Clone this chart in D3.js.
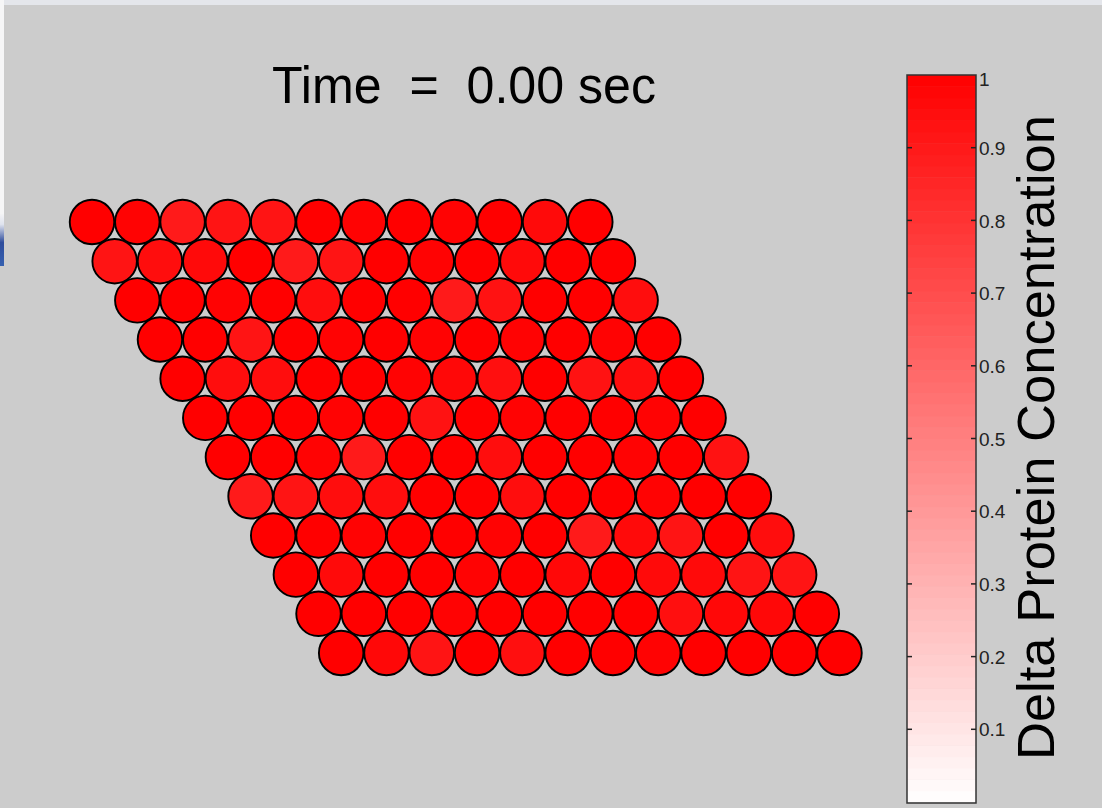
<!DOCTYPE html>
<html>
<head>
<meta charset="utf-8">
<script src="https://cdn.jsdelivr.net/npm/d3@7"></script>
<style>
  html, body { margin: 0; padding: 0; background: #cccccc; overflow: hidden; }
  svg { display: block; font-family: "Liberation Sans", Arial, sans-serif; }
</style>
</head>
<body>
<svg id="drawing"></svg>
<script>
// cell grid: 12 rows x 12 columns, each row shifted half a cell
var rowIndex = [0,1,2,3,4,5,6,7,8,9,10,11];
var colIndex = [0,1,2,3,4,5,6,7,8,9,10,11];

// delta protein concentration per cell (row by row)
var row00 = [1.00, 0.99, 0.90, 0.92, 0.92, 1.00, 0.99, 1.00, 0.99, 1.00, 0.96, 1.00];
var row01 = [0.92, 0.95, 0.96, 1.00, 0.90, 0.92, 1.00, 0.99, 1.00, 0.96, 1.00, 1.00];
var row02 = [1.00, 1.00, 0.99, 1.00, 0.95, 1.00, 1.00, 0.90, 0.93, 1.00, 1.00, 0.95];
var row03 = [1.00, 1.00, 0.92, 1.00, 0.99, 1.00, 0.99, 1.00, 0.99, 1.00, 0.99, 1.00];
var row04 = [1.00, 0.95, 0.95, 1.00, 1.00, 0.99, 0.97, 0.94, 1.00, 0.93, 0.95, 1.00];
var row05 = [1.00, 1.00, 1.00, 0.99, 1.00, 0.93, 1.00, 0.99, 1.00, 1.00, 0.99, 1.00];
var row06 = [1.00, 1.00, 0.99, 0.90, 1.00, 1.00, 0.95, 1.00, 1.00, 0.99, 1.00, 0.93];
var row07 = [0.90, 0.92, 0.95, 0.95, 1.00, 1.00, 0.95, 1.00, 1.00, 0.99, 1.00, 1.00];
var row08 = [1.00, 1.00, 0.99, 1.00, 1.00, 0.99, 1.00, 0.90, 0.96, 0.92, 1.00, 0.95];
var row09 = [1.00, 0.96, 1.00, 1.00, 0.99, 1.00, 0.97, 1.00, 0.96, 0.96, 0.92, 0.92];
var row10 = [1.00, 1.00, 1.00, 0.99, 1.00, 1.00, 1.00, 1.00, 0.94, 0.97, 0.97, 1.00];
var row11 = [1.00, 0.97, 0.92, 1.00, 0.94, 1.00, 1.00, 0.99, 1.00, 1.00, 1.00, 1.00];
var concentration = [row00, row01, row02, row03, row04, row05, row06, row07, row08, row09, row10, row11];

var colorbarTicks = [0.1, 0.2, 0.3, 0.4, 0.5, 0.6, 0.7, 0.8, 0.9, 1];
var titleText = "Time  =  0.00 sec";
var colorbarLabel = "Delta Protein Concentration";

class HexChart {

    constructor( config, data ) {
        this.config = {
            parent: config.parent,
            width: config.width || 1102,
            height: config.height || 808
        }
        //flatten rows into cells
        this.cells = [];
        for(var r=0;r<rowIndex.length;r++){
            for(var c=0;c<colIndex.length;c++){
                this.cells.push({row: rowIndex[r], col: colIndex[c], value: data[r][c]});
            }
        }
        this.init();
    }

    init() {
        let self = this;

        self.svg = d3.select( self.config.parent )
            .attr('width', self.config.width)
            .attr('height', self.config.height);

        self.svg.append('rect')
            .attr('width', self.config.width).attr('height', self.config.height)
            .attr('fill', '#cccccc');

        // window edge leftovers
        const defs = self.svg.append('defs');
        const g = defs.append('linearGradient').attr('id', 'edge').attr('x1', 0).attr('x2', 0).attr('y1', 0).attr('y2', 1);
        g.append('stop').attr('offset', '0').attr('stop-color', '#f4f4f6');
        g.append('stop').attr('offset', '0.2').attr('stop-color', '#dfe3ee');
        g.append('stop').attr('offset', '0.55').attr('stop-color', '#2e4c9c');
        g.append('stop').attr('offset', '1').attr('stop-color', '#3560b0');
        self.svg.append('rect').attr('x', 0).attr('y', 0).attr('width', 4).attr('height', 214).attr('fill', '#f6f6f7');
        self.svg.append('rect').attr('x', 0).attr('y', 214).attr('width', 4).attr('height', 52).attr('fill', 'url(#edge)');
        self.svg.append('rect').attr('x', 4).attr('y', 0).attr('width', self.config.width).attr('height', 5).attr('fill', '#e4e6eb');

        self.color = d3.scaleLinear().domain([0, 1]).range(['#ffffff', '#ff0000']);

        self.xscale = d3.scaleLinear().domain([0, 16.5]).range([92, 839.5]);
        self.yscale = d3.scaleLinear().domain([0, 11]).range([222, 653]);
        self.cscale = d3.scaleLinear().domain([0, 1]).range([802, 75]);
    }

    update() {
        let self = this;
        self.render();
    }

    render() {
        let self = this;
        var radius = (self.xscale(1) - self.xscale(0)) / 2 - 0.4;

        self.svg.append('g')
            .selectAll('circle')
            .data(self.cells)
            .enter()
            .append('circle')
            .attr('cx', d => self.xscale(d.col + d.row / 2))
            .attr('cy', d => self.yscale(d.row))
            .attr('r', radius)
            .attr('fill', d => self.color(d.value))
            .attr('stroke', '#000')
            .attr('stroke-width', 1.9);

        self.svg.append('text')
            .attr('x', 272)
            .attr('y', 103)
            .attr('xml:space', 'preserve')
            .attr('font-size', '52px')
            .attr('textLength', 384)
            .attr('lengthAdjust', 'spacingAndGlyphs')
            .attr('fill', '#000')
            .text(titleText);

        // colorbar
        var bx = 907, bw = 69;
        var bands = d3.range(64).map(i => [i / 64, (i + 1) / 64]);
        var cb = self.svg.append('g');
        cb.selectAll('rect.band')
            .data(bands)
            .enter()
            .append('rect')
            .attr('class', 'band')
            .attr('x', bx)
            .attr('width', bw)
            .attr('y', d => self.cscale(d[1]))
            .attr('height', d => self.cscale(d[0]) - self.cscale(d[1]) + 0.5)
            .attr('fill', d => self.color((d[0] + d[1]) / 2));

        cb.append('rect')
            .attr('x', bx).attr('y', self.cscale(1))
            .attr('width', bw).attr('height', self.cscale(0) - self.cscale(1) + 1)
            .attr('fill', 'none').attr('stroke', '#333').attr('stroke-width', 1.5);

        var axisRight = d3.axisRight(self.cscale)
            .tickValues(colorbarTicks)
            .tickSize(0)
            .tickPadding(3)
            .tickFormat(d => d === 1 ? '1' : String(d));
        var ax = cb.append('g').attr('transform', `translate(${bx + bw},0)`).call(axisRight);
        ax.select('.domain').remove();
        ax.selectAll('text')
            .attr('font-size', '19px')
            .attr('font-family', '"Liberation Sans", Arial, sans-serif')
            .attr('fill', '#222')
            .attr('dy', d => d === 1 ? '0.55em' : '0.35em');

        cb.selectAll('line.tl')
            .data(colorbarTicks.filter(d => d < 1))
            .enter()
            .append('line')
            .attr('x1', bx).attr('x2', bx + 5)
            .attr('y1', d => self.cscale(d)).attr('y2', d => self.cscale(d))
            .attr('stroke', '#222').attr('stroke-width', 1.5);
        cb.selectAll('line.tr')
            .data(colorbarTicks.filter(d => d < 1))
            .enter()
            .append('line')
            .attr('x1', bx + bw - 5).attr('x2', bx + bw)
            .attr('y1', d => self.cscale(d)).attr('y2', d => self.cscale(d))
            .attr('stroke', '#222').attr('stroke-width', 1.5);

        self.svg.append('text')
            .attr('transform', 'translate(1054,760) rotate(-90)')
            .attr('font-size', '52.5px')
            .attr('textLength', 645)
            .attr('lengthAdjust', 'spacingAndGlyphs')
            .attr('fill', '#000')
            .text(colorbarLabel);
    }
}

var chart = new HexChart({parent: '#drawing', width: 1102, height: 808}, concentration);
chart.update();
</script>
</body>
</html>
